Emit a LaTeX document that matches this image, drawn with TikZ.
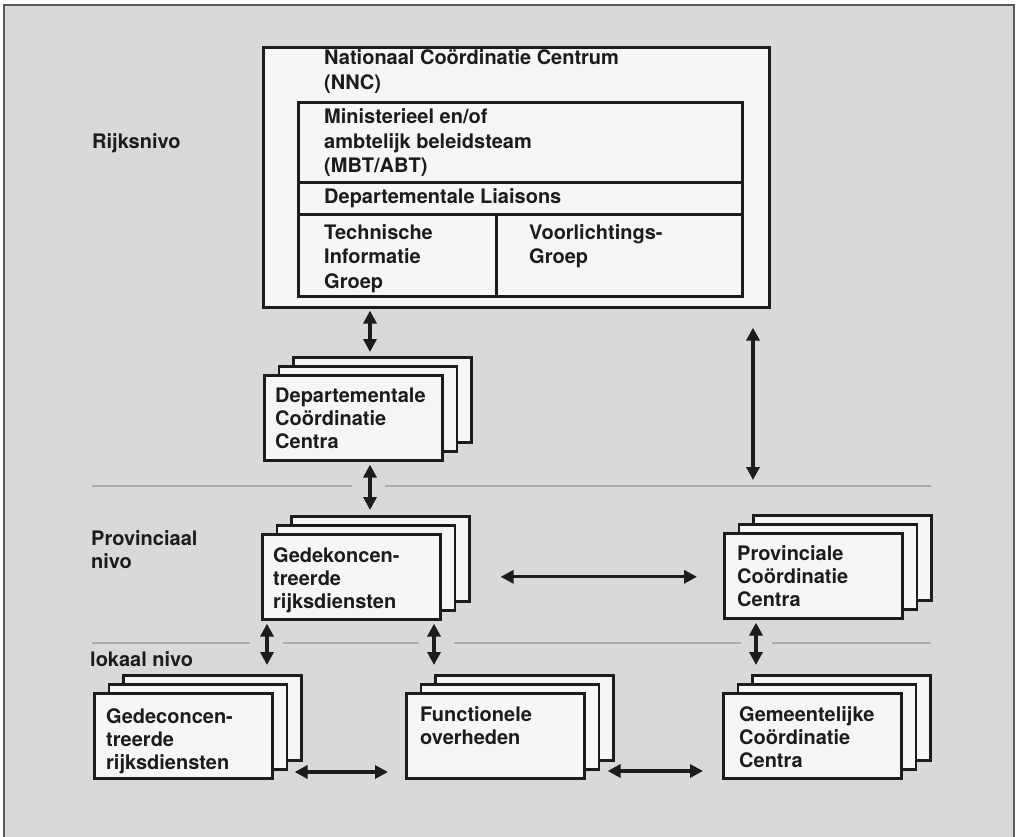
\documentclass[tikz,border=0pt]{standalone}
\usepackage{fontspec}
\setmainfont{TeX Gyre Heros}
\usetikzlibrary{arrows.meta,shadows}
\definecolor{paper}{RGB}{217,217,215}
\definecolor{boxfill}{RGB}{246,246,244}
\definecolor{ink}{RGB}{28,28,28}
\definecolor{levelgray}{RGB}{172,172,172}
\definecolor{framegray}{RGB}{90,90,90}
\newcommand\txtfont{\fontsize{20}{23}\selectfont\bfseries}
\newcommand\nncfont{\fontsize{20}{24.5}\selectfont\bfseries}
\begin{document}
\begin{tikzpicture}[x=1pt,y=-1pt,
  box/.style={draw=ink, line width=2.6pt, fill=boxfill, rectangle, inner sep=0pt, anchor=north west},
  stackbox/.style={box, minimum width=178pt, minimum height=85pt,
    copy shadow={shadow xshift=29pt, shadow yshift=18pt, fill=boxfill, draw=ink, line width=2.6pt},
    copy shadow={shadow xshift=14.5pt, shadow yshift=9pt, fill=boxfill, draw=ink, line width=2.6pt}},
  txt/.style={anchor=base west, inner sep=0pt, align=left, text=ink, font=\txtfont},
  nnctxt/.style={txt, font=\nncfont},
  arr/.style={draw=ink, line width=3.3pt, {Triangle[length=13pt,width=13pt]}-{Triangle[length=13pt,width=13pt]}},
  level/.style={draw=levelgray, line width=1.5pt}]
\useasboundingbox (0,0) rectangle (1019,837);
% paper and frame
\fill[paper] (4,5) rectangle (1014,837);
\draw[framegray, line width=2pt] (4,837) -- (4,5) -- (1014,5) -- (1014,837);
% level lines
\draw[level] (92,486) -- (352,486) (385,486) -- (931,486);
\draw[level] (92,643) -- (250,643) (283,643) -- (419,643) (454,643) -- (741,643) (772,643) -- (931,643);
% level labels (anchor = baseline of last line)
\node[txt] (rijks) at (92,149) {Rijksnivo};
\node[txt] (prov) at (91,568) {Provinciaal\\nivo};
\node[txt] (lok) at (90,666) {lokaal nivo};
% NNC
\node[box, minimum width=506pt, minimum height=260pt] (nnc) at (262,46) {};
\node[box, minimum width=444pt, minimum height=80pt] (mbt) at (297,101) {};
\node[box, minimum width=444pt, minimum height=32pt] (liais) at (297,181) {};
\node[box, minimum width=198pt, minimum height=82pt] (tig) at (297,213) {};
\node[box, minimum width=246pt, minimum height=82pt] (vg) at (495,213) {};
\node[nnctxt] at ([shift={(62,43.5)}]nnc.north west) {Nationaal Coördinatie Centrum\\(NNC)};
\node[nnctxt] at ([shift={(27,72)}]mbt.north west) {Ministerieel en/of\\ambtelijk beleidsteam\\(MBT/ABT)};
\node[nnctxt] at ([shift={(27,23)}]liais.north west) {Departementale Liaisons};
\node[nnctxt] at ([shift={(27,75)}]tig.north west) {Technische\\Informatie\\Groep};
\node[nnctxt] at ([shift={(34,50.5)}]vg.north west) {Voorlichtings-\\Groep};
% stacks
\node[stackbox] (dcc) at (263,374) {};
\node[txt] at ([shift={(12,74)}]dcc.north west) {Departementale\\Coördinatie\\Centra};
\node[stackbox] (gkr) at (261,533) {};
\node[txt] at ([shift={(12,75)}]gkr.north west) {Gedekoncen-\\treerde\\rijksdiensten};
\node[stackbox] (pcc) at (723,532) {};
\node[txt] at ([shift={(14,74)}]pcc.north west) {Provinciale\\Coördinatie\\Centra};
\node[stackbox] (gdr) at (93,692) {};
\node[txt] at ([shift={(13,77)}]gdr.north west) {Gedeconcen-\\treerde\\rijksdiensten};
\node[stackbox] (fo) at (405,692) {};
\node[txt] at ([shift={(15,52)}]fo.north west) {Functionele\\overheden};
\node[stackbox] (gcc) at (722,692) {};
\node[txt] at ([shift={(17,75)}]gcc.north west) {Gemeentelijke\\Coördinatie\\Centra};
% connectors
\draw[arr, shorten <=2pt, shorten >=22pt] (nnc.south -| 370,0) -- (dcc.north -| 370,0);
\draw[arr, shorten <=3pt, shorten >=23pt] (dcc.south -| 370,0) -- (gkr.north -| 370,0);
\draw[arr, shorten <=19pt, shorten >=52pt] (nnc.south -| 753,0) -- (pcc.north -| 753,0);
\draw[arr, shorten <=59pt, shorten >=26pt] (gkr.east) -- (gkr.east -| pcc.west);
\draw[arr, shorten <=3pt, shorten >=27pt] (gkr.south -| 267,0) -- (gdr.north -| 267,0);
\draw[arr, shorten <=3pt, shorten >=27pt] (gkr.south -| 434,0) -- (fo.north -| 434,0);
\draw[arr, shorten <=3pt, shorten >=27pt] (pcc.south -| 756,0) -- (gcc.north -| 756,0);
\draw[arr, shorten <=21pt, shorten >=17pt] (gdr.east |- 0,772) -- (fo.west |- 0,772);
\draw[arr, shorten <=22pt, shorten >=19pt] (fo.east |- 0,771) -- (gcc.west |- 0,771);
\end{tikzpicture}
\end{document}
